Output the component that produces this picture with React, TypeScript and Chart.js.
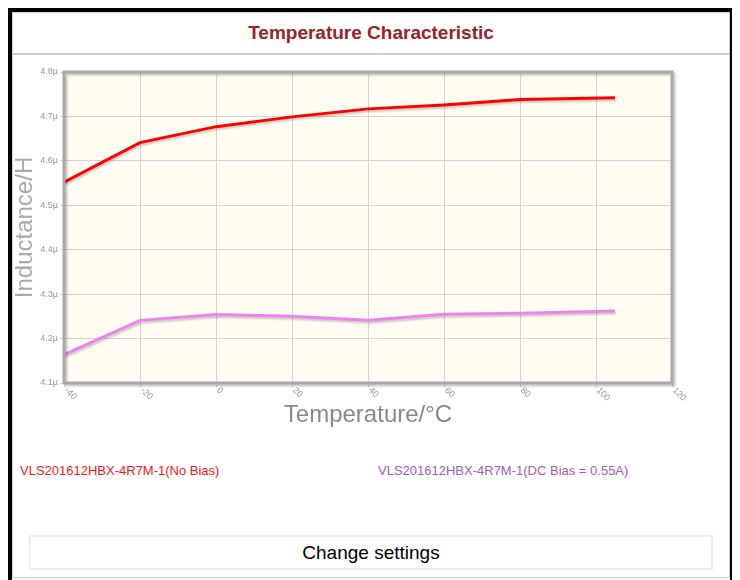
import React, { useEffect, useRef, useState } from "react";
import { Chart, registerables } from "chart.js";

Chart.register(...registerables);

// ---- data ----
const temperatures = [-40, -20, 0, 20, 40, 60, 80, 105];
const noBiasValues = [4.552, 4.641, 4.677, 4.699, 4.717, 4.726, 4.738, 4.742];
const dcBiasValues = [4.164, 4.241, 4.254, 4.25, 4.241, 4.255, 4.257, 4.262];
const xTickValues = [-40, -20, 0, 20, 40, 60, 80, 100, 120];
const yTickValues = [4.1, 4.2, 4.3, 4.4, 4.5, 4.6, 4.7, 4.8];
const yTickSuffix = "µ";
const seriesNames = [
  "VLS201612HBX-4R7M-1(No Bias)",
  "VLS201612HBX-4R7M-1(DC Bias = 0.55A)",
];
const chartTitle = "Temperature Characteristic";
const xTitle = "Temperature/°C";
const yTitle = "Inductance/H";
const buttonText = "Change settings";

const FONT = '"Liberation Sans", Arial, sans-serif';
const RED = "#ff0000";
const VIOLET = "#ee82ee";

export default function App() {
  const canvasRef = useRef<HTMLCanvasElement>(null);
  const [err, setErr] = useState("");

  useEffect(() => {
    if (!canvasRef.current) return;
    let chart: any = null;
    try {
      const plotPlugin = {
        id: "plotFrame",
        beforeDraw(c: any) {
          const { ctx, chartArea } = c;
          const { left, top, right, bottom } = chartArea;
          ctx.save();
          ctx.fillStyle = "#fffcf2";
          ctx.fillRect(left, top, right - left, bottom - top);
          ctx.restore();
        },
        afterDraw(c: any) {
          const { ctx, chartArea } = c;
          const { left, top, right, bottom } = chartArea;
          ctx.save();
          ctx.shadowColor = "rgba(0,0,0,0.22)";
          ctx.shadowOffsetX = 2;
          ctx.shadowOffsetY = 2;
          ctx.shadowBlur = 2;
          ctx.strokeStyle = "#a8a8a8";
          ctx.lineWidth = 3;
          ctx.strokeRect(left, top, right - left, bottom - top);
          ctx.restore();
          // rotated (clockwise) x tick labels, positioned by the x scale
          const xs = c.scales.x;
          ctx.save();
          ctx.fillStyle = "#999";
          ctx.font = `9px ${FONT}`;
          ctx.textAlign = "left";
          ctx.textBaseline = "middle";
          xs.ticks.forEach((t: any) => {
            const px = xs.getPixelForValue(t.value);
            ctx.save();
            ctx.translate(px + 2, bottom + 6);
            ctx.rotate(Math.PI / 4);
            ctx.fillText(String(t.value), 0, 0);
            ctx.restore();
          });
          ctx.restore();
        },
      };
      const shadowPlugin = {
        id: "lineShadow",
        beforeDatasetDraw(c: any) {
          const ctx = c.ctx;
          ctx.save();
          ctx.shadowColor = "rgba(0,0,0,0.2)";
          ctx.shadowOffsetX = 1;
          ctx.shadowOffsetY = 2;
          ctx.shadowBlur = 2;
        },
        afterDatasetDraw(c: any) {
          c.ctx.restore();
        },
      };

      chart = new Chart(canvasRef.current, {
        type: "line",
        data: {
          datasets: [
            {
              label: seriesNames[0],
              data: temperatures.map((t, i) => ({ x: t, y: noBiasValues[i] })),
              borderColor: RED,
              backgroundColor: RED,
              borderWidth: 3,
              pointRadius: 0,
              tension: 0,
            },
            {
              label: seriesNames[1],
              data: temperatures.map((t, i) => ({ x: t, y: dcBiasValues[i] })),
              borderColor: VIOLET,
              backgroundColor: VIOLET,
              borderWidth: 3,
              pointRadius: 0,
              tension: 0,
            },
          ],
        },
        options: {
          animation: false,
          responsive: false,
          layout: { padding: { top: 16, right: 57, left: 0, bottom: 0 } },
          plugins: {
            legend: { display: false },
            tooltip: { enabled: false },
          },
          scales: {
            x: {
              type: "linear",
              min: xTickValues[0],
              max: xTickValues[xTickValues.length - 1],
              afterBuildTicks: (s: any) => {
                s.ticks = xTickValues.map((v) => ({ value: v }));
              },
              afterFit: (s: any) => {
                s.height = 53;
              },
              ticks: { display: false },
              grid: { color: "#d4d4d4", lineWidth: 1, tickLength: 4 },
              border: { display: false },
              title: {
                display: true,
                text: xTitle,
                color: "#888",
                font: { size: 24, family: FONT, lineHeight: 1 },
                padding: { top: 0, bottom: 9 },
              },
            },
            y: {
              type: "linear",
              min: yTickValues[0],
              max: yTickValues[yTickValues.length - 1],
              afterBuildTicks: (s: any) => {
                s.ticks = yTickValues.map((v) => ({ value: v }));
              },
              afterFit: (s: any) => {
                s.width = 51;
              },
              ticks: {
                callback: (v: any) => Number(v).toFixed(1) + yTickSuffix,
                font: { size: 9, family: FONT },
                color: "#999",
                padding: 2,
              },
              grid: { color: "#d4d4d4", lineWidth: 1, tickLength: 4 },
              border: { display: false },
              title: {
                display: true,
                text: yTitle,
                color: "#aaa",
                font: { size: 24, family: FONT, lineHeight: 1 },
                padding: { top: 0, bottom: 0 },
              },
            },
          },
        },
        plugins: [plotPlugin, shadowPlugin],
      } as any);
    } catch (e: any) {
      setErr(String(e && e.stack ? e.stack : e));
    }
    return () => {
      if (chart) chart.destroy();
    };
  }, []);

  return (
    <div style={{ position: "relative", fontFamily: FONT, height: 572 }}>
      <div
        style={{
          position: "absolute",
          left: 0,
          top: 0,
          width: 732,
          height: 572,
          boxSizing: "border-box",
          borderTop: "4px solid #000",
          borderLeft: "4px solid #000",
          borderRight: "10px solid #000",
          background: "#fff",
        }}
      />
      <div
        style={{
          position: "absolute",
          left: 4,
          top: 4,
          width: 718,
          height: 566,
          boxSizing: "border-box",
          border: "1px solid #ccc",
          background: "#fff",
        }}
      />
      <div
        style={{
          position: "absolute",
          left: 5,
          top: 5,
          width: 716,
          height: 42,
          boxSizing: "border-box",
          borderBottom: "2px solid #ccc",
          display: "flex",
          alignItems: "center",
          justifyContent: "center",
          fontWeight: "bold",
          fontSize: 19,
          color: "#9b2226",
        }}
      >
        {chartTitle}
      </div>
      <canvas
        ref={canvasRef}
        width={716}
        height={380}
        style={{ position: "absolute", left: 5, top: 48, width: 716, height: 380 }}
      />
      <div
        style={{
          position: "absolute",
          left: 12,
          top: 455,
          fontSize: 13,
          color: "#f01818",
          whiteSpace: "nowrap",
        }}
      >
        {seriesNames[0]}
      </div>
      <div
        style={{
          position: "absolute",
          left: 370,
          top: 455,
          fontSize: 13,
          color: "#a15cb5",
          whiteSpace: "nowrap",
        }}
      >
        {seriesNames[1]}
      </div>
      <div
        style={{
          position: "absolute",
          left: 21,
          top: 527,
          width: 684,
          height: 35,
          boxSizing: "border-box",
          border: "2px solid #eee",
          display: "flex",
          alignItems: "center",
          justifyContent: "center",
          fontSize: 19,
          color: "#000",
        }}
      >
        {buttonText}
      </div>
      {err ? (
        <pre style={{ position: "absolute", left: 20, top: 60, fontSize: 10, color: "blue", zIndex: 5 }}>{err}</pre>
      ) : null}
    </div>
  );
}
